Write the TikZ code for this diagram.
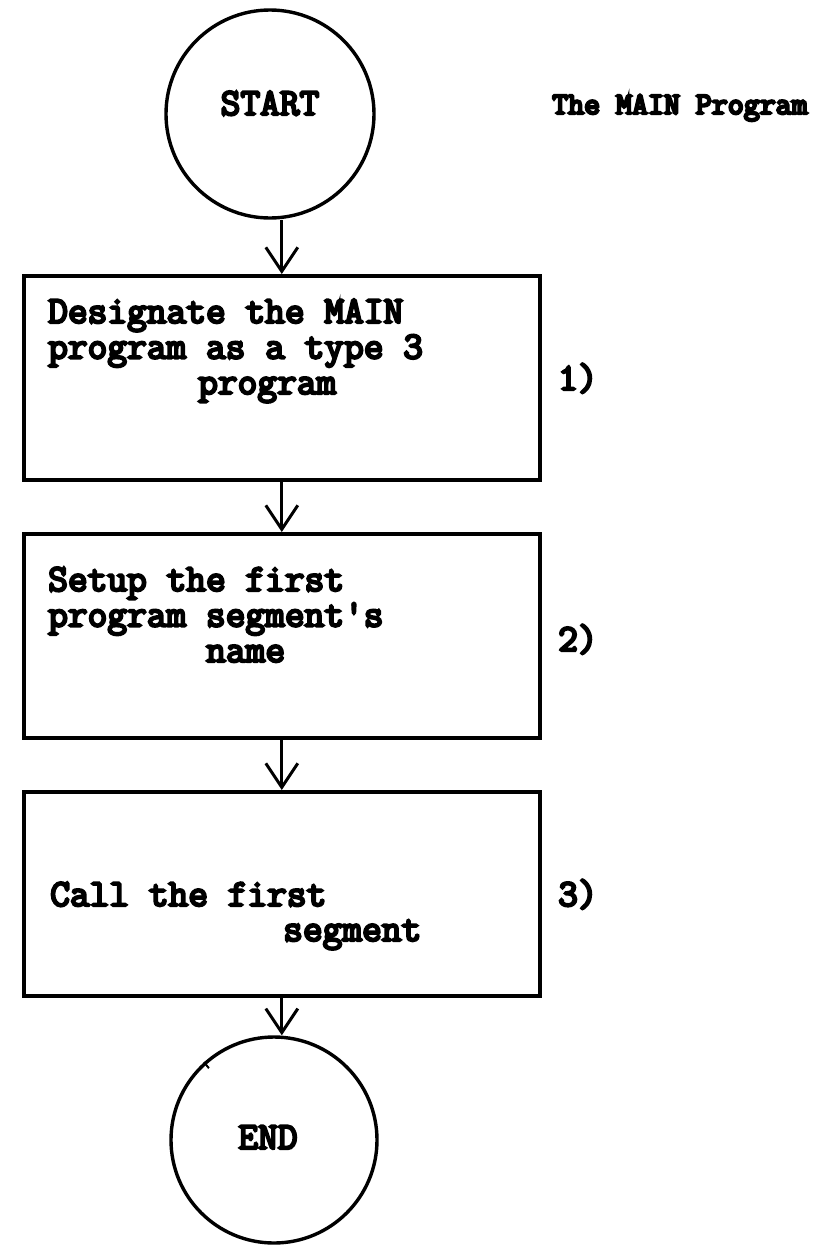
\documentclass[tikz,border=0pt]{standalone}
\usepackage{fontspec}
\usetikzlibrary{arrows.meta}
% heavy typewriter face: Latin Modern Mono thickened
\newfontfamily\typer{Latin Modern Mono}[FakeBold=6]
\newfontfamily\typerheavy{Latin Modern Mono}[FakeBold=8]
\tikzset{
  stepbox/.style={draw=black, line width=3.6pt, rectangle, minimum width=516pt,
                  minimum height=204pt, anchor=north west, inner sep=0pt},
  terminal/.style={draw=black, line width=3.4pt, circle, inner sep=0pt},
  flow/.style={line width=3pt, -{Straight Barb[length=24pt,width=32pt,line width=3pt]}},
  tw/.style={font=\typer\fontsize{38.3}{36}\selectfont, inner sep=0pt, anchor=base west},
  twc/.style={tw, anchor=base},
}
\begin{document}
\begin{tikzpicture}[x=1pt,y=-1pt]
\useasboundingbox (0,0) rectangle (820,1245);

% terminals
\node[terminal, minimum size=208pt] (start) at (270,114) {};
\node[twc] (startlbl) at (270,115) {START};
\node[terminal, minimum size=206pt] (endc) at (274,1140) {};
\node[twc] (endlbl) at (268,1149) {END};
\draw[line width=2pt] (endc.132) -- ++(5,6);

% title
\node[tw, font=\typerheavy\fontsize{31}{31}\selectfont] (title) at (552,114)
  {The MAIN Program};

% process boxes
\node[stepbox] (b1) at (22,274) {};
\node[stepbox] (b2) at (22,532) {};
\node[stepbox] (b3) at (22,790) {};

% box texts
\node[tw] (b1l1) at (48,323) {Designate the MAIN};
\node[tw] (b1l2) at (48,358.5) {program as a type 3};
\node[tw] (b1l3) at (198,394) {program};

\node[tw] (b2l1) at (48,591) {Setup the first};
\node[tw] (b2l2) at (48,626.5) {program segment's};
\node[tw] (b2l3) at (206,662) {name};

\node[tw] (b3l1) at (50,906) {Call the first};
\node[tw] (b3l2) at (283,941) {segment};

% step numbers
\node[tw] (n1) at (558,390) {1)};
\node[tw] (n2) at (558,651) {2)};
\node[tw] (n3) at (558,906) {3)};

% connectors
\draw[flow] (start.south -| b1.north) -- (b1.north);
\draw[flow] (b1.south) -- (b2.north);
\draw[flow] (b2.south) -- (b3.north);
\draw[flow] (b3.south) -- (b3.south |- endc.north);
\end{tikzpicture}
\end{document}
